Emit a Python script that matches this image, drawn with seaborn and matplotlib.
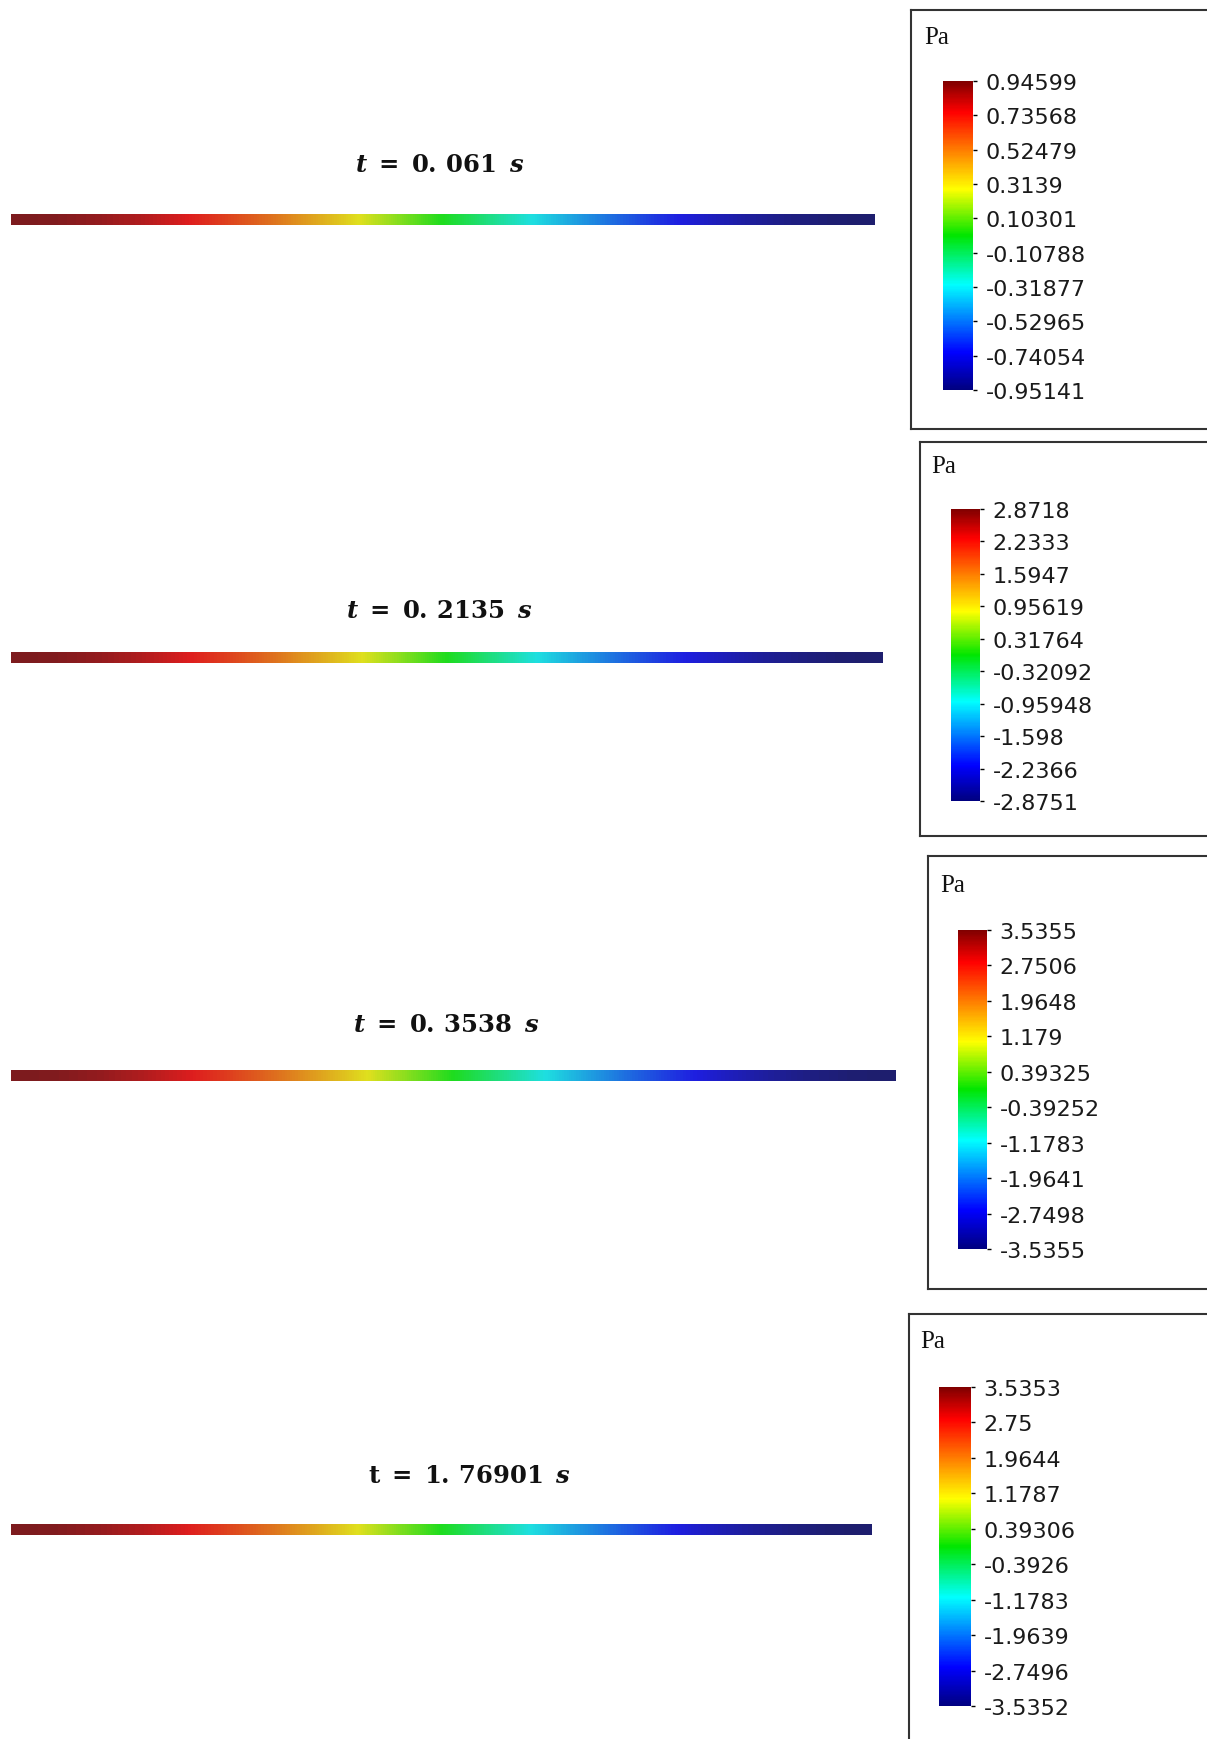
import numpy as np
import matplotlib
matplotlib.use("Agg")
import matplotlib.pyplot as plt
import seaborn as sns
from matplotlib.colors import LinearSegmentedColormap, Normalize
from matplotlib.cm import ScalarMappable

# ---------------- data ----------------
times = ["0.061", "0.2135", "0.3538", "1.76901"]

# stations along the pipe (fraction of length)
stations = [0.00, 0.05, 0.10, 0.15, 0.20, 0.25, 0.30, 0.35, 0.40, 0.45, 0.50,
            0.55, 0.60, 0.65, 0.70, 0.75, 0.80, 0.85, 0.90, 0.95, 1.00]

# pressure (Pa) read along the pipe at each station
p1 = [0.946, 0.934, 0.900, 0.843, 0.765, 0.668, 0.555, 0.428, 0.290, 0.146, -0.003,
      -0.151, -0.296, -0.434, -0.561, -0.674, -0.770, -0.848, -0.905, -0.940, -0.951]
p2 = [2.872, 2.836, 2.731, 2.559, 2.323, 2.030, 1.687, 1.303, 0.886, 0.448, -0.002,
      -0.451, -0.890, -1.306, -1.691, -2.034, -2.326, -2.562, -2.735, -2.840, -2.875]
p3 = [3.536, 3.492, 3.363, 3.150, 2.860, 2.500, 2.078, 1.605, 1.093, 0.553, 0.000,
      -0.553, -1.093, -1.605, -2.078, -2.500, -2.860, -3.150, -3.363, -3.492, -3.536]
p4 = [3.535, 3.492, 3.362, 3.150, 2.860, 2.500, 2.078, 1.604, 1.092, 0.553, 0.000,
      -0.553, -1.092, -1.604, -2.078, -2.500, -2.860, -3.150, -3.362, -3.492, -3.535]

labels1 = ["0.94599", "0.73568", "0.52479", "0.3139", "0.10301",
           "-0.10788", "-0.31877", "-0.52965", "-0.74054", "-0.95141"]
labels2 = ["2.8718", "2.2333", "1.5947", "0.95619", "0.31764",
           "-0.32092", "-0.95948", "-1.598", "-2.2366", "-2.8751"]
labels3 = ["3.5355", "2.7506", "1.9648", "1.179", "0.39325",
           "-0.39252", "-1.1783", "-1.9641", "-2.7498", "-3.5355"]
labels4 = ["3.5353", "2.75", "1.9644", "1.1787", "0.39306",
           "-0.3926", "-1.1783", "-1.9639", "-2.7496", "-3.5352"]

pressures = [p1, p2, p3, p4]
tick_labels = [labels1, labels2, labels3, labels4]
unit = "Pa"

# ---------------- style ----------------
sns.set_theme(style="white")
plt.rcParams["font.family"] = ["DejaVu Sans"]
plt.rcParams["mathtext.fontset"] = "custom"
plt.rcParams["mathtext.rm"] = "DejaVu Serif:bold"
plt.rcParams["mathtext.it"] = "DejaVu Serif:italic:bold"
plt.rcParams["mathtext.bf"] = "DejaVu Serif:bold"

stops = [0.0, 0.12, 0.34, 0.50, 0.65, 0.90, 1.0]
legend_colors = ["#000080", "#0000ff", "#00ffff", "#00e600", "#ffff00", "#ff0000", "#800000"]
bar_colors = ["#1e1e6e", "#1e1ee0", "#1ee0e0", "#1edc1e", "#e0e01e", "#de1e1e", "#7d1b1e"]
legend_cmap = LinearSegmentedColormap.from_list("leg", list(zip(stops, legend_colors)))
bar_cmap = LinearSegmentedColormap.from_list("bar", list(zip(stops, bar_colors)))

W, H = 1207, 1740
fig = plt.figure(figsize=(W / 100, H / 100), dpi=100)
fig.patch.set_facecolor("white")


def rect(x0, y0, x1, y1):
    return [x0 / W, 1 - y1 / H, (x1 - x0) / W, (y1 - y0) / H]


# layout (pixels)
bar_right = [875, 883, 896, 872]
bar_center = [220.5, 658, 1076, 1530.5]
title_pos = [(440, 165), (439, 611), (446, 1025), (470, 1476)]
box = [(911, 11, 1230, 430), (920, 443, 1230, 837), (928, 857, 1230, 1290), (909, 1315, 1230, 1760)]
cbar = [(943, 82, 973, 391), (951, 510, 980, 802), (958, 931, 987, 1250), (939, 1388, 971, 1707)]
pa_pos = [(924, 38), (931, 467), (940, 886), (920, 1342)]
title_fmt = [r"$t\;=\;0.\,061\ \,s$", r"$t\;=\;0.\,2135\ \,s$",
             r"$t\;=\;0.\,3538\ \,s$", r"$\mathrm{t}\;=\;1.\,76901\ \,s$"]

for i in range(4):
    vals = np.array(pressures[i])
    labs = tick_labels[i]
    ticks = [float(s) for s in labs]
    vmin, vmax = min(ticks), max(ticks)
    norm = Normalize(vmin=vmin, vmax=vmax)

    # pipe bar
    ax = fig.add_axes(rect(11, bar_center[i] - 5.5, bar_right[i], bar_center[i] + 5.5))
    half = (stations[1] - stations[0]) / 2
    ax.imshow(vals[None, :], cmap=bar_cmap, norm=norm, aspect="auto",
              interpolation="bilinear", interpolation_stage="data",
              extent=(stations[0] - half, stations[-1] + half, 0, 1))
    ax.set_xlim(stations[0], stations[-1])
    ax.set_ylim(0, 1)
    ax.axis("off")

    # title
    fig.text(title_pos[i][0] / W, 1 - title_pos[i][1] / H, title_fmt[i],
             ha="center", va="center", fontsize=17.5, color="#111111")

    # legend box
    bx = fig.add_axes(rect(*box[i]))
    bx.set_xticks([])
    bx.set_yticks([])
    bx.set_facecolor("white")
    for s in bx.spines.values():
        s.set_visible(True)
        s.set_color("#333333")
        s.set_linewidth(1.5)
    fig.text(pa_pos[i][0] / W, 1 - pa_pos[i][1] / H, unit, ha="left", va="center",
             fontsize=18, family=["Liberation Serif"], color="#111111")

    # colorbar
    cax = fig.add_axes(rect(*cbar[i]))
    sm = ScalarMappable(norm=norm, cmap=legend_cmap)
    cb = fig.colorbar(sm, cax=cax, ticks=ticks)
    cb.set_ticklabels(labs)
    cb.outline.set_visible(False)
    cax.tick_params(axis="y", length=3, width=1, color="black", direction="out",
                    labelsize=16, pad=6, labelcolor="#1a1a1a", right=True, left=False)

fig.savefig("out.png", dpi=100, facecolor="white")
